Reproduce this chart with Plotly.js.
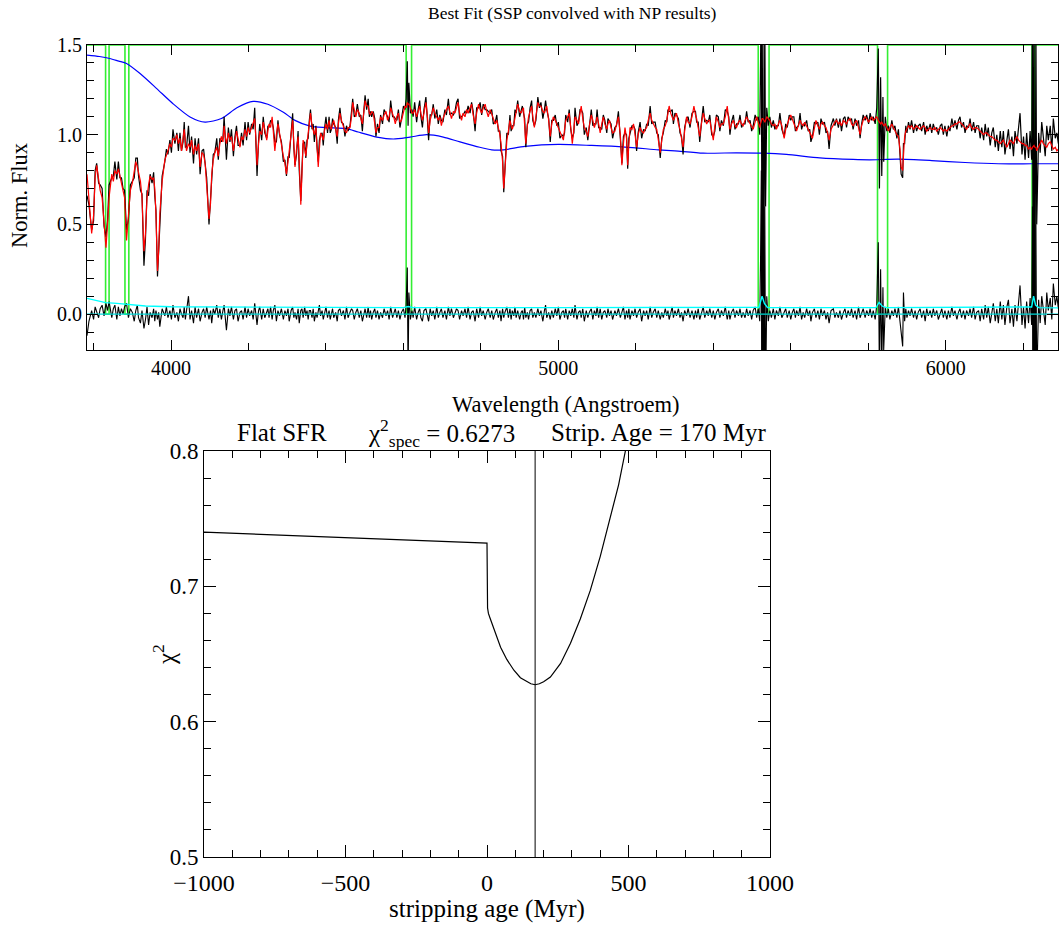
<!DOCTYPE html>
<html><head><meta charset="utf-8">
<script src="https://cdn.plot.ly/plotly-3.0.1.min.js"></script>
<style>body{margin:0;padding:0;background:#fff}#chart{width:1059px;height:926px}</style>
</head><body><div id="chart"></div>
<script>
// ---------- top panel: wavelength grid (Angstroem) ----------
const wave = [
3783,3788,3795,3800,3804,3808,3813,3817,3822,3827,
3832,3836,3840,3847,3851,3855,3860,3864,3868,3872,
3876,3880,3885,3890,3895,3900,3905,3909,3913,3916,
3921,3925,3930,3934,3938,3942,3946,3951,3955,3958,
3961,3965,3968,3971,3977,3984,3988,3992,3997,4001,
4005,4010,4015,4019,4023,4027,4031,4034,4037,4040,
4045,4049,4053,4058,4062,4066,4071,4075,4080,4084,
4088,4092,4098,4102,4105,4109,4113,4118,4122,4126,
4130,4134,4137,4140,4143,4148,4152,4156,4161,4165,
4169,4173,4178,4182,4186,4191,4195,4199,4203,4208,
4212,4216,4219,4222,4226,4229,4234,4238,4242,4247,
4250,4253,4257,4261,4264,4268,4272,4276,4280,4285,
4290,4294,4298,4302,4305,4310,4314,4317,4320,4324,
4328,4331,4335,4338,4341,4345,4348,4351,4354,4357,
4360,4364,4367,4370,4374,4377,4380,4383,4386,4390,
4393,4396,4400,4404,4408,4411,4414,4417,4420,4425,
4429,4432,4436,4440,4445,4449,4453,4457,4462,4466,
4469,4473,4477,4481,4486,4490,4494,4498,4501,4505,
4509,4512,4515,4518,4522,4526,4529,4533,4537,4541,
4546,4550,4555,4559,4563,4567,4572,4576,4579,4583,
4587,4591,4595,4600,4604,4607,4610,4612,4614,4618,
4622,4625,4629,4634,4638,4642,4645,4649,4653,4658,
4662,4665,4669,4673,4677,4681,4686,4690,4694,4698,
4702,4707,4711,4716,4720,4724,4729,4733,4737,4741,
4745,4750,4754,4759,4763,4767,4772,4776,4780,4785,
4789,4794,4798,4802,4806,4811,4815,4819,4824,4828,
4832,4837,4841,4845,4849,4852,4856,4859,4862,4867,
4871,4875,4878,4881,4885,4888,4891,4895,4900,4904,
4907,4910,4913,4916,4920,4923,4927,4931,4934,4938,
4942,4947,4951,4955,4960,4964,4967,4970,4975,4979,
4983,4987,4992,4996,5000,5004,5009,5013,5016,5019,
5024,5028,5032,5036,5040,5043,5048,5052,5056,5059,
5063,5067,5072,5076,5080,5085,5089,5093,5097,5100,
5104,5108,5112,5116,5120,5125,5128,5132,5136,5140,
5146,5150,5155,5160,5164,5168,5172,5176,5179,5182,
5185,5190,5194,5198,5202,5206,5211,5215,5220,5224,
5228,5232,5237,5241,5245,5250,5254,5258,5263,5267,
5271,5276,5280,5283,5286,5290,5294,5297,5301,5305,
5310,5314,5318,5322,5326,5331,5335,5340,5345,5350,
5354,5357,5361,5365,5370,5374,5378,5383,5387,5391,
5396,5400,5404,5408,5413,5417,5421,5426,5431,5436,
5440,5443,5447,5452,5456,5460,5465,5469,5473,5477,
5482,5486,5490,5495,5499,5503,5508,5512,5516,5520,
5522,5524,5526,5528,5530,5533,5535,5538,5542,5546,
5550,5555,5559,5563,5568,5572,5577,5583,5587,5591,
5596,5600,5604,5608,5612,5615,5620,5624,5628,5632,
5636,5641,5645,5649,5652,5656,5661,5665,5670,5674,
5678,5682,5687,5691,5695,5699,5704,5710,5714,5718,
5723,5727,5731,5736,5740,5744,5748,5753,5757,5761,
5766,5770,5775,5779,5783,5787,5792,5796,5801,5805,
5809,5813,5818,5822,5826,5829,5832,5835,5838,5840,
5844,5848,5852,5856,5861,5865,5869,5874,5878,5882,
5885,5889,5891,5894,5897,5900,5904,5908,5912,5917,
5921,5925,5929,5934,5938,5943,5947,5951,5955,5960,
5964,5968,5972,5977,5981,5986,5990,5994,5998,6003,
6007,6011,6016,6020,6024,6029,6033,6037,6041,6046,
6050,6054,6059,6063,6067,6072,6076,6080,6085,6089,
6093,6098,6102,6106,6110,6115,6119,6123,6128,6132,
6136,6141,6145,6149,6153,6158,6162,6166,6171,6175,
6179,6184,6188,6192,6197,6201,6205,6209,6214,6218,
6222,6224,6226,6228,6230,6233,6235,6240,6244,6248,
6252,6257,6261,6265,6270,6274,6278,6283,6287,6291];

// observed spectrum (black)
const fluxObs = [
0.66,0.61,0.47,0.52,0.80,0.84,0.73,0.72,0.70,0.49,
0.43,0.52,0.72,0.76,0.77,0.85,0.75,0.85,0.76,0.76,
0.70,0.69,0.47,0.53,0.72,0.74,0.76,0.87,0.87,0.77,
0.69,0.67,0.27,0.42,0.69,0.66,0.78,0.73,0.79,0.66,
0.58,0.21,0.36,0.49,0.77,0.85,0.92,0.89,0.97,0.90,
1.03,0.95,1.01,0.91,1.01,0.91,0.96,1.07,0.93,0.93,
1.05,0.90,0.99,0.84,0.98,0.89,0.98,0.78,0.91,0.92,
0.82,0.76,0.50,0.64,0.73,0.89,0.90,0.98,0.86,0.98,
0.96,0.98,1.10,0.97,0.86,1.04,0.96,1.03,0.88,0.99,
1.05,0.94,0.94,1.01,0.94,1.07,0.97,1.07,1.00,1.06,
1.03,1.15,0.96,0.77,0.97,1.06,0.97,1.10,1.01,0.98,
1.05,1.04,1.08,1.07,1.04,0.96,0.96,1.08,1.00,0.96,
0.85,0.86,0.77,0.88,0.87,1.02,1.12,0.93,0.83,0.89,
1.02,0.80,0.63,0.81,0.95,0.96,0.87,0.97,0.98,1.08,
1.14,1.03,1.06,0.96,1.05,0.93,0.85,0.97,1.00,1.01,
0.94,1.03,1.10,1.01,1.10,1.01,1.03,1.09,1.06,1.04,
0.95,1.08,1.15,1.07,1.06,0.99,1.05,1.02,1.05,1.13,
1.20,1.10,1.11,1.17,1.10,1.11,1.02,1.14,1.22,1.14,
1.20,1.10,1.13,1.10,1.13,1.09,0.99,1.06,1.01,1.11,
1.06,1.14,1.12,1.10,1.07,1.19,1.10,1.10,1.09,1.08,
1.14,1.04,1.09,1.16,1.14,1.20,1.41,1.05,1.29,1.12,
1.14,1.10,1.18,1.07,1.14,1.19,1.10,1.04,1.14,1.21,
1.08,0.97,1.11,1.11,1.17,1.09,1.14,1.06,1.11,1.08,
1.07,1.14,1.11,1.20,1.11,1.12,1.11,1.13,1.18,1.20,
1.09,1.10,1.11,1.13,1.12,1.16,1.12,1.18,1.13,1.02,
1.15,1.15,1.18,1.11,1.17,1.14,1.14,1.13,1.12,1.14,
1.06,1.07,1.11,1.02,1.02,0.91,0.88,0.68,0.81,1.01,
1.00,1.11,1.02,1.05,1.05,1.14,1.12,1.19,1.10,1.13,
1.16,1.12,1.09,0.93,1.06,1.07,1.15,1.19,1.08,1.05,
1.08,1.21,1.15,1.18,1.09,1.14,1.19,1.14,1.09,0.96,
1.08,1.08,1.11,1.05,1.07,0.98,1.00,0.99,1.01,1.11,
1.07,1.14,1.03,0.98,1.01,1.15,1.05,1.07,1.14,1.14,
1.12,1.00,1.04,0.97,1.06,1.14,1.05,1.06,1.06,1.14,
1.04,1.04,1.03,1.11,1.08,1.01,1.09,1.07,1.06,0.98,
1.04,1.05,1.13,0.98,0.84,0.99,1.01,1.00,0.81,0.98,
1.01,1.05,1.05,1.03,0.91,1.01,1.07,0.98,1.03,1.02,
1.06,1.05,1.16,1.06,1.07,1.07,1.01,1.00,0.87,0.98,
1.01,1.08,1.07,1.14,1.13,1.13,1.14,1.06,1.12,1.11,
1.09,1.01,0.99,0.89,1.04,1.09,1.10,1.04,1.12,1.13,
1.13,1.07,1.07,0.96,1.08,1.16,1.07,1.08,1.07,1.11,
1.00,0.99,1.02,1.11,1.10,1.02,1.08,1.05,1.14,1.13,
1.10,1.00,1.07,1.11,1.03,1.06,1.06,1.11,1.04,1.06,
1.06,1.13,1.07,1.08,1.02,1.05,1.11,1.08,1.10,1.00,
1.40,1.90,-0.40,1.80,-0.30,1.70,0.60,1.15,1.05,1.10,
1.04,1.08,1.03,1.05,1.05,1.12,1.03,0.99,1.06,1.04,
1.11,1.08,1.10,1.10,1.02,1.04,1.05,1.12,1.03,1.06,
1.05,1.08,1.02,1.03,0.96,0.99,1.07,1.06,1.07,1.00,
1.09,1.06,1.07,1.01,1.02,0.92,1.05,1.09,1.05,1.09,
1.04,1.09,1.02,1.09,1.10,1.04,1.10,1.08,1.09,1.03,
1.09,1.05,1.08,0.98,1.06,1.11,1.08,1.11,1.06,1.12,
1.08,1.10,1.06,1.15,1.48,0.70,1.32,0.77,1.21,0.85,
1.10,1.02,1.05,1.01,1.08,1.03,1.05,0.98,1.03,0.89,
0.78,0.76,0.95,0.95,1.05,1.01,1.07,1.03,1.08,1.01,
1.06,1.02,1.05,1.06,1.02,1.07,1.00,1.05,1.02,1.06,
1.01,1.06,1.03,1.04,1.00,1.05,1.06,1.00,1.05,0.99,
1.05,1.02,1.09,1.04,1.08,1.03,1.08,1.10,1.04,1.07,
1.01,1.05,1.04,1.09,1.02,1.07,1.01,1.05,1.05,0.98,
1.04,0.97,1.06,0.99,1.04,0.94,1.01,1.04,0.93,1.00,
0.91,1.02,0.93,1.02,0.89,0.97,1.03,0.92,0.99,0.88,
1.02,0.95,1.03,1.12,0.89,0.99,0.86,1.01,0.87,1.02,
0.86,1.80,-0.40,1.90,-0.30,1.60,0.50,1.01,0.90,1.07,
0.99,0.88,1.05,0.97,1.05,0.91,1.09,0.98,1.01,0.95];

// best-fit model (red)
const fluxModel = [
0.78,0.65,0.45,0.55,0.76,0.83,0.75,0.69,0.65,0.50,
0.37,0.50,0.65,0.78,0.74,0.80,0.78,0.81,0.77,0.73,
0.70,0.65,0.41,0.55,0.69,0.73,0.80,0.85,0.82,0.79,
0.74,0.65,0.35,0.45,0.65,0.72,0.77,0.75,0.76,0.70,
0.56,0.24,0.35,0.56,0.74,0.86,0.88,0.91,0.95,0.93,
0.98,0.97,1.00,0.95,0.98,0.91,0.98,1.03,0.96,0.91,
0.95,0.93,0.97,0.89,0.94,0.91,0.95,0.82,0.90,0.89,
0.84,0.72,0.53,0.62,0.78,0.86,0.90,0.93,0.88,0.95,
0.99,0.96,1.05,0.99,0.95,1.01,0.97,0.99,0.91,0.97,
1.02,0.98,0.93,0.99,0.97,1.03,0.99,1.04,1.01,1.04,
1.06,1.09,0.98,0.83,0.95,1.02,1.00,1.07,1.03,0.97,
1.02,1.06,1.04,1.10,1.02,0.91,1.00,1.06,1.01,0.93,
0.88,0.84,0.78,0.85,0.91,1.00,1.08,0.95,0.82,0.92,
0.99,0.85,0.61,0.78,0.97,0.92,0.88,0.95,1.01,1.06,
1.12,1.05,1.03,1.00,1.04,0.95,0.82,0.92,1.01,0.99,
0.97,1.02,1.06,1.03,1.08,1.04,1.03,1.06,1.08,1.03,
0.99,1.06,1.12,1.08,1.04,1.02,1.01,1.04,1.04,1.10,
1.18,1.13,1.10,1.14,1.12,1.09,1.06,1.13,1.19,1.16,
1.16,1.12,1.11,1.13,1.12,1.06,1.01,1.04,1.04,1.10,
1.08,1.11,1.13,1.08,1.10,1.15,1.12,1.09,1.06,1.10,
1.12,1.07,1.08,1.13,1.16,1.15,1.18,1.17,1.17,1.15,
1.12,1.12,1.14,1.10,1.13,1.16,1.12,1.08,1.12,1.18,
1.10,1.01,1.08,1.12,1.15,1.12,1.10,1.08,1.10,1.05,
1.09,1.12,1.14,1.16,1.12,1.09,1.13,1.12,1.15,1.18,
1.12,1.08,1.12,1.10,1.14,1.12,1.15,1.17,1.11,1.06,
1.12,1.17,1.14,1.12,1.15,1.17,1.13,1.10,1.14,1.12,
1.09,1.06,1.08,1.04,1.00,0.95,0.85,0.70,0.80,0.97,
1.02,1.08,1.05,1.03,1.06,1.10,1.14,1.17,1.13,1.12,
1.14,1.15,1.05,0.95,1.05,1.10,1.13,1.16,1.10,1.04,
1.10,1.18,1.16,1.16,1.13,1.12,1.14,1.16,1.08,0.99,
1.06,1.10,1.08,1.06,1.03,1.01,0.99,0.97,1.03,1.08,
1.10,1.12,1.04,0.95,1.03,1.10,1.08,1.06,1.12,1.16,
1.09,1.04,1.02,0.99,1.05,1.11,1.08,1.04,1.07,1.10,
1.06,1.01,1.06,1.10,1.06,1.03,1.06,1.08,1.04,1.01,
1.02,1.06,1.10,1.00,0.83,0.95,1.04,0.98,0.83,0.95,
1.04,1.03,1.06,1.00,0.93,1.00,1.04,1.02,1.01,1.03,
1.04,1.08,1.12,1.08,1.06,1.04,1.03,0.98,0.90,0.97,
1.03,1.05,1.08,1.12,1.16,1.12,1.10,1.08,1.10,1.12,
1.06,1.03,0.98,0.93,1.02,1.10,1.07,1.06,1.10,1.16,
1.11,1.09,1.04,0.99,1.07,1.12,1.09,1.06,1.08,1.08,
1.02,0.97,1.05,1.10,1.07,1.04,1.06,1.06,1.10,1.16,
1.08,1.03,1.06,1.08,1.05,1.04,1.07,1.08,1.06,1.05,
1.08,1.10,1.08,1.06,1.05,1.03,1.07,1.10,1.07,1.04,
1.06,1.08,1.09,1.09,1.08,1.07,1.08,1.10,1.09,1.08,
1.06,1.05,1.06,1.03,1.06,1.08,1.05,0.98,1.03,1.06,
1.09,1.11,1.09,1.07,1.04,1.02,1.06,1.08,1.06,1.05,
1.07,1.05,1.03,1.01,1.00,0.98,1.04,1.08,1.05,1.03,
1.06,1.07,1.05,1.04,1.01,0.97,1.03,1.06,1.07,1.08,
1.06,1.07,1.05,1.08,1.07,1.06,1.08,1.09,1.06,1.05,
1.07,1.08,1.04,1.00,1.05,1.08,1.10,1.09,1.07,1.09,
1.10,1.08,1.09,1.10,1.08,1.07,1.06,1.07,1.06,1.05,
1.06,1.04,1.02,1.04,1.06,1.04,1.02,1.00,0.99,0.92,
0.82,0.80,0.88,0.99,1.02,1.03,1.05,1.04,1.05,1.03,
1.04,1.05,1.04,1.03,1.04,1.05,1.04,1.02,1.03,1.04,
1.03,1.03,1.04,1.02,1.03,1.04,1.03,1.02,1.03,1.02,
1.03,1.04,1.05,1.05,1.06,1.06,1.07,1.07,1.06,1.05,
1.04,1.03,1.05,1.06,1.04,1.03,1.04,1.04,1.03,1.02,
1.01,1.00,1.01,1.01,1.00,0.99,0.99,0.98,0.97,0.97,
0.96,0.95,0.96,0.97,0.95,0.93,0.95,0.97,0.96,0.95,
0.97,0.99,0.97,0.96,0.95,0.95,0.94,0.94,0.92,0.93,
0.92,0.93,0.94,0.94,0.93,0.93,0.91,0.93,0.95,0.97,
0.95,0.94,0.93,0.95,0.96,0.94,0.92,0.93,0.91,0.92];

// residuals observed - model (black, around zero)
const fluxResid = [
-0.12,-0.04,0.02,-0.03,0.04,0.01,-0.02,0.03,0.05,-0.01,
0.06,0.02,0.07,-0.02,0.03,0.05,-0.03,0.04,-0.01,0.03,
0.00,0.04,0.06,-0.02,0.03,0.01,-0.04,0.02,0.05,-0.02,
-0.05,0.02,-0.08,-0.03,0.04,-0.06,0.01,-0.02,0.03,-0.04,
0.02,-0.03,0.01,-0.07,0.03,-0.01,0.04,-0.02,0.02,-0.03,
0.05,-0.02,0.01,-0.04,0.03,0.00,-0.02,0.04,-0.03,0.02,
0.10,-0.03,0.02,-0.05,0.04,-0.02,0.03,-0.04,0.01,0.03,
-0.02,0.04,-0.03,0.02,-0.05,0.03,0.00,0.05,-0.02,0.03,
-0.03,0.02,0.05,-0.02,-0.09,0.03,-0.01,0.04,-0.03,0.02,
0.03,-0.04,0.01,0.02,-0.03,0.04,-0.02,0.03,-0.01,0.02,
-0.03,0.06,-0.02,-0.06,0.02,0.04,-0.03,0.03,-0.02,0.01,
0.03,-0.02,0.04,-0.03,0.02,0.05,-0.04,0.02,-0.01,0.03,
-0.03,0.02,-0.01,0.03,-0.04,0.02,0.04,-0.02,0.01,-0.03,
0.03,-0.05,0.02,0.03,-0.02,0.04,-0.01,0.02,-0.03,0.02,
0.02,-0.02,0.03,-0.04,0.01,-0.02,0.03,0.05,-0.01,0.02,
-0.03,0.01,0.04,-0.02,0.02,-0.03,0.00,0.03,-0.02,0.01,
-0.04,0.02,0.03,-0.01,0.02,-0.03,0.04,-0.02,0.01,0.03,
0.02,-0.03,0.01,0.03,-0.02,0.02,-0.04,0.01,0.03,-0.02,
0.04,-0.02,0.02,-0.03,0.01,0.03,-0.02,0.02,-0.03,0.01,
-0.02,0.03,-0.01,0.02,-0.03,0.04,-0.02,0.01,0.03,-0.02,
0.02,-0.03,0.01,0.03,-0.02,0.05,0.26,-0.35,0.12,-0.03,
0.02,-0.02,0.04,-0.03,0.01,0.03,-0.02,-0.04,0.02,0.03,
-0.02,-0.04,0.03,-0.01,0.02,-0.03,0.04,-0.02,0.01,0.03,
-0.02,0.02,-0.03,0.04,-0.01,0.03,-0.02,0.01,0.03,0.02,
-0.03,0.02,-0.01,0.03,-0.02,0.04,-0.03,0.01,0.02,-0.04,
0.03,-0.02,0.04,-0.01,0.02,-0.03,0.01,0.03,-0.02,0.02,
-0.03,0.01,0.03,-0.02,0.02,-0.04,0.03,-0.02,0.01,0.04,
-0.02,0.03,-0.03,0.02,-0.01,0.04,-0.02,0.02,-0.03,0.01,
0.02,-0.03,0.04,-0.02,0.01,-0.03,0.02,0.03,-0.02,0.01,
-0.02,0.03,-0.01,0.02,-0.04,0.02,0.05,-0.02,0.01,-0.03,
0.02,-0.02,0.03,-0.01,0.04,-0.03,0.01,0.02,-0.02,0.03,
-0.03,0.02,-0.01,0.03,-0.02,0.05,-0.03,0.01,0.02,-0.02,
0.03,-0.04,0.02,-0.02,0.01,0.03,-0.03,0.02,-0.01,0.04,
-0.02,0.03,-0.03,0.01,0.02,-0.02,0.03,-0.01,0.02,-0.03,
0.02,-0.01,0.03,-0.02,0.01,0.04,-0.03,0.02,-0.02,0.03,
-0.03,0.02,-0.01,0.03,-0.02,0.01,0.03,-0.04,0.02,-0.01,
0.02,-0.03,0.04,-0.02,0.01,0.03,-0.02,0.02,-0.03,0.01,
-0.02,0.03,-0.01,0.02,-0.03,0.01,0.04,-0.02,0.02,-0.01,
0.03,-0.02,0.01,-0.04,0.02,-0.01,0.03,-0.02,0.02,-0.03,
0.02,-0.02,0.03,-0.03,0.01,0.04,-0.02,0.02,-0.01,0.03,
-0.02,0.02,-0.03,0.01,0.03,-0.02,0.02,-0.01,0.04,-0.03,
0.02,-0.03,0.01,0.03,-0.02,0.02,-0.01,0.03,-0.02,0.01,
-0.02,0.03,-0.01,0.02,-0.03,0.02,0.04,-0.02,0.03,-0.04,
0.30,0.80,-1.30,0.70,-1.20,0.60,-0.50,0.10,-0.04,0.02,
-0.02,0.03,-0.03,0.02,-0.01,0.04,-0.02,0.01,0.03,-0.02,
0.02,-0.03,0.01,0.03,-0.02,0.02,-0.01,0.04,-0.03,0.01,
-0.02,0.03,-0.01,0.02,-0.04,0.01,0.03,-0.02,0.02,-0.03,
0.03,-0.01,0.02,-0.03,0.01,-0.05,0.02,0.03,-0.02,0.01,
-0.02,0.02,-0.03,0.01,0.03,-0.02,0.02,-0.01,0.03,-0.02,
0.02,-0.03,0.04,-0.02,0.01,0.03,-0.02,0.02,-0.01,0.03,
-0.02,0.02,-0.03,0.05,0.40,-0.38,0.25,-0.30,0.15,-0.20,
0.04,-0.02,0.03,-0.03,0.02,-0.01,0.03,-0.02,0.04,-0.03,
-0.10,-0.18,0.12,-0.04,0.03,-0.02,0.02,-0.01,0.03,-0.02,
0.02,-0.03,0.01,0.03,-0.02,0.02,-0.04,0.03,-0.01,0.02,
-0.02,0.03,-0.01,0.02,-0.03,0.01,0.03,-0.02,0.02,-0.03,
0.02,-0.02,0.04,-0.01,0.02,-0.03,0.01,0.03,-0.02,0.02,
-0.03,0.02,-0.01,0.03,-0.02,0.04,-0.03,0.01,0.02,-0.04,
0.03,-0.03,0.05,-0.02,0.04,-0.05,0.02,0.06,-0.04,0.03,
-0.05,0.07,-0.03,0.05,-0.06,0.04,0.08,-0.05,0.03,-0.07,
0.05,-0.04,0.06,0.16,-0.06,0.04,-0.08,0.07,-0.05,0.09,
-0.06,0.60,-1.20,0.70,-1.10,0.50,-0.40,0.08,-0.05,0.10,
0.04,-0.06,0.12,0.02,0.09,-0.03,0.17,0.05,0.10,0.03];

// smooth (blue) curve
const waveBlue = [3783,3815,3842,3865,3885,3920,3963,4005,4049,4088,4130,4170,4212,4250,4290,4320,4359,4400,4453,4483,4531,4574,4617,4660,4703,4746,4797,4828,4858,4914,5000,5086,5172,5258,5301,5374,5460,5529,5589,5675,5761,5804,5878,5964,6050,6136,6222,6291];
const fluxBlue = [1.444,1.436,1.425,1.410,1.397,1.341,1.257,1.173,1.099,1.070,1.090,1.150,1.186,1.170,1.125,1.080,1.048,1.040,1.034,1.015,0.987,0.976,0.987,1.000,0.987,0.960,0.930,0.916,0.916,0.935,0.946,0.940,0.931,0.916,0.910,0.897,0.899,0.897,0.890,0.871,0.862,0.860,0.864,0.856,0.845,0.838,0.838,0.838];

// error spectrum (cyan)
const waveErr = [3783,3800,3831,3860,3891,3934,4000,4300,4600,4612,4625,5000,5300,5518,5526,5532,5540,5820,5828,5836,5845,6200,6222,6227,6232,6240,6291];
const fluxErr = [0.088,0.078,0.064,0.060,0.055,0.045,0.041,0.037,0.036,0.042,0.036,0.036,0.036,0.038,0.100,0.060,0.037,0.036,0.065,0.045,0.036,0.036,0.040,0.100,0.050,0.036,0.035];

// masked wavelength windows (green)
const maskStart = [3831,3881,4607,5516,5824,6223];
const maskEnd   = [3840,3891,4621,5544,5850,6230];
const maskHigh = 1.5;

// ---------- bottom panel ----------
const stripAge = [-1000,0,2,5,10,20,30,48,70,95,118,140,155,170,185,200,224,260,295,330,365,400,436,465,489,510];
const chi2 = [0.740,0.732,0.684,0.680,0.677,0.671,0.665,0.655,0.646,0.638,0.6325,0.6295,0.628,0.6273,0.628,0.6295,0.633,0.643,0.658,0.676,0.697,0.722,0.751,0.775,0.800,0.820];
const bestAge = 170;
const chi2Best = 0.6273;

// ---------- build traces ----------
const gx = [3783], gy = [maskHigh];
for (let i = 0; i < maskStart.length; i++) {
  gx.push(maskStart[i], maskStart[i], maskEnd[i], maskEnd[i]);
  gy.push(maskHigh, 0, 0, maskHigh);
}
gx.push(6291); gy.push(maskHigh);

const traces = [
  {x: gx, y: gy, mode: 'lines', line: {color: '#33ee33', width: 1.6}, xaxis: 'x', yaxis: 'y', cliponaxis: false},
  {x: waveBlue, y: fluxBlue, mode: 'lines', line: {color: '#0000ff', width: 1.2, shape: 'spline', smoothing: 0.7}, xaxis: 'x', yaxis: 'y'},
  {x: wave, y: fluxObs, mode: 'lines', line: {color: '#000000', width: 1.2}, xaxis: 'x', yaxis: 'y'},
  {x: wave, y: fluxModel, mode: 'lines', line: {color: '#ff0000', width: 1.2}, xaxis: 'x', yaxis: 'y'},
  {x: wave, y: fluxResid, mode: 'lines', line: {color: '#000000', width: 1.1}, xaxis: 'x', yaxis: 'y'},
  {x: [3783, 6291], y: [0, 0], mode: 'lines', line: {color: '#00d8d8', width: 1.2}, xaxis: 'x', yaxis: 'y'},
  {x: waveErr, y: fluxErr, mode: 'lines', line: {color: '#00ffff', width: 1.4}, xaxis: 'x', yaxis: 'y'},
  {x: stripAge, y: chi2, mode: 'lines', line: {color: '#000000', width: 1.2}, xaxis: 'x2', yaxis: 'y2'},
  {x: [bestAge, bestAge], y: [0.5, 0.8], mode: 'lines', line: {color: '#000000', width: 1}, xaxis: 'x2', yaxis: 'y2'}
];

const serif = 'Liberation Serif, Times New Roman, serif';
function ax(extra) {
  return Object.assign({
    showline: true, linecolor: '#000', linewidth: 1, mirror: 'ticks',
    ticks: 'inside', tickcolor: '#000', tickwidth: 1,
    showgrid: false, zeroline: false, fixedrange: true,
    tickfont: {family: serif, color: '#000'}
  }, extra);
}

const layout = {
  width: 1059, height: 926,
  margin: {l: 0, r: 0, t: 0, b: 0},
  paper_bgcolor: '#fff', plot_bgcolor: '#fff',
  showlegend: false,
  xaxis: ax({domain: [87/1059, 1058/1059], range: [3783, 6290], anchor: 'y',
    tickmode: 'linear', tick0: 0, dtick: 1000, ticklen: 10,
    minor: {dtick: 200, tick0: 0, ticks: 'inside', ticklen: 7, tickcolor: '#000', showgrid: false},
    tickfont: {family: serif, size: 20, color: '#000'}}),
  yaxis: ax({domain: [1 - 350/926, 1 - 45/926], range: [-0.2, 1.5], anchor: 'x',
    tickmode: 'linear', tick0: 0, dtick: 0.5, tickformat: '.1f', ticklen: 11,
    minor: {dtick: 0.1, tick0: 0, ticks: 'inside', ticklen: 7, tickcolor: '#000', showgrid: false},
    tickfont: {family: serif, size: 20, color: '#000'}}),
  xaxis2: ax({domain: [204/1059, 770/1059], range: [-1000, 1000], anchor: 'y2',
    tickmode: 'linear', tick0: 0, dtick: 500, ticklen: 12,
    minor: {dtick: 100, tick0: 0, ticks: 'inside', ticklen: 7, tickcolor: '#000', showgrid: false},
    ticklabelstandoff: 4,
    tickfont: {family: serif, size: 24, color: '#000'}}),
  yaxis2: ax({domain: [1 - 857/926, 1 - 451/926], range: [0.5, 0.8], anchor: 'x2',
    tickmode: 'linear', tick0: 0, dtick: 0.1, tickformat: '.1f', ticklen: 12,
    minor: {dtick: 0.02, tick0: 0, ticks: 'inside', ticklen: 7, tickcolor: '#000', showgrid: false},
    tickfont: {family: serif, size: 23, color: '#000'}}),
  annotations: [
    {text: 'Best Fit (SSP convolved with NP results)', x: 572/1059, y: 1 - 13/926, xref: 'paper', yref: 'paper', showarrow: false, xanchor: 'center', yanchor: 'middle', font: {family: serif, size: 17.5, color: '#000'}},
    {text: 'Wavelength (Angstroem)', x: 566/1059, y: 1 - 404/926, xref: 'paper', yref: 'paper', showarrow: false, xanchor: 'center', yanchor: 'middle', font: {family: serif, size: 22.5, color: '#000'}},
    {text: 'Norm. Flux', x: 19/1059, y: 1 - 196/926, xref: 'paper', yref: 'paper', showarrow: false, textangle: -90, xanchor: 'center', yanchor: 'middle', font: {family: serif, size: 22.5, color: '#000'}},
    {text: 'Flat SFR', x: 282/1059, y: 1 - 433/926, xref: 'paper', yref: 'paper', showarrow: false, xanchor: 'center', yanchor: 'middle', font: {family: serif, size: 25, color: '#000'}},
    {text: 'χ<sup>2</sup><sub>spec</sub> = ' + chi2Best.toFixed(4), x: 441/1059, y: 1 - 433/926, xref: 'paper', yref: 'paper', showarrow: false, xanchor: 'center', yanchor: 'middle', font: {family: serif, size: 25, color: '#000'}},
    {text: 'Strip. Age = ' + bestAge + ' Myr', x: 658/1059, y: 1 - 433/926, xref: 'paper', yref: 'paper', showarrow: false, xanchor: 'center', yanchor: 'middle', font: {family: serif, size: 25, color: '#000'}},
    {text: 'χ<sup>2</sup>', x: 164/1059, y: 1 - 655/926, xref: 'paper', yref: 'paper', showarrow: false, textangle: -90, xanchor: 'center', yanchor: 'middle', font: {family: serif, size: 25, color: '#000'}},
    {text: 'stripping age (Myr)', x: 487/1059, y: 1 - 909/926, xref: 'paper', yref: 'paper', showarrow: false, xanchor: 'center', yanchor: 'middle', font: {family: serif, size: 25, color: '#000'}}
  ]
};

Plotly.newPlot('chart', traces, layout, {displayModeBar: false, staticPlot: true});
</script>
</body></html>
